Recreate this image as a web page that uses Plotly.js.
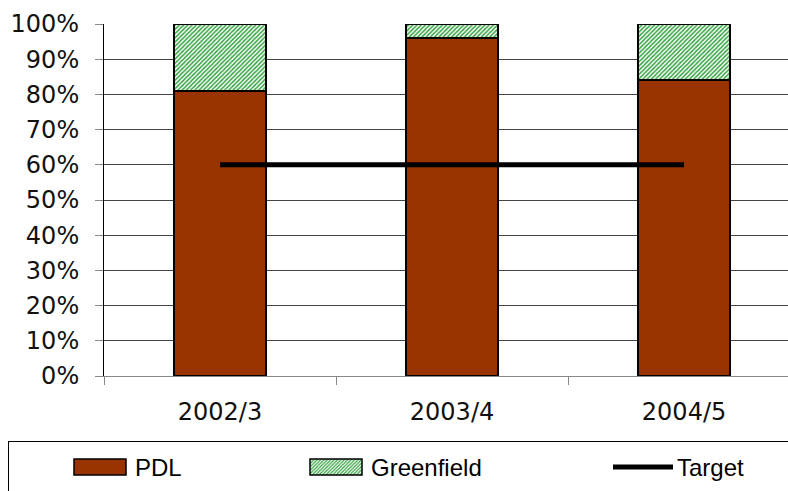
<!DOCTYPE html>
<html>
<head>
<meta charset="utf-8">
<script src="https://cdn.plot.ly/plotly-3.0.1.min.js"></script>
<style>
  html, body { margin: 0; padding: 0; background: #fff; }
  #chart { width: 788px; height: 491px; }
</style>
</head>
<body>
<div id="chart"></div>
<script>
// Share of new development by land type, per year
const years = ['2002/3', '2003/4', '2004/5'];
const pdl = [81, 96, 84];
const greenfield = [19, 4, 16];
const target = [60, 60, 60];
const yTicks = [0, 10, 20, 30, 40, 50, 60, 70, 80, 90, 100];

const tickFont = { family: "'DejaVu Sans', Verdana, sans-serif", size: 24, color: '#111' };

const traces = [
  {
    type: 'bar', name: 'PDL', x: years, y: pdl, width: 0.4,
    marker: { color: '#993300', line: { color: '#000', width: 2 } },
    hoverinfo: 'skip'
  },
  {
    type: 'bar', name: 'Greenfield', x: years, y: greenfield, width: 0.4,
    marker: {
      color: '#ffffff',
      line: { color: '#000', width: 2 },
      pattern: { shape: '/', fgcolor: '#33a33f', bgcolor: '#ffffff', size: 3, solidity: 0.5 }
    },
    hoverinfo: 'skip'
  },
  {
    type: 'scatter', mode: 'lines', name: 'Target', x: years, y: target,
    line: { color: '#000', width: 5 },
    hoverinfo: 'skip'
  }
];

const layout = {
  width: 788, height: 491,
  margin: { l: 104, r: 0, t: 24, b: 115 },
  paper_bgcolor: '#fff', plot_bgcolor: '#fff',
  barmode: 'stack',
  showlegend: true,
  xaxis: {
    type: 'category',
    range: [-0.5, 2.448],
    tickson: 'boundaries',
    ticks: 'outside', ticklen: 8, tickcolor: '#888', tickwidth: 1,
    showline: true, linecolor: '#888', linewidth: 1,
    showgrid: false, zeroline: false,
    tickfont: tickFont,
    ticklabelstandoff: 14
  },
  yaxis: {
    range: [0, 100],
    tickvals: yTicks,
    ticktext: yTicks.map(v => v + '%'),
    ticks: 'outside', ticklen: 8, tickcolor: '#888', tickwidth: 1,
    showline: true, linecolor: '#000', linewidth: 1,
    showgrid: true, gridcolor: '#444', gridwidth: 1,
    zeroline: false,
    tickfont: tickFont,
    ticklabelstandoff: 11
  },
  legend: {
    orientation: 'h',
    xref: 'container', yref: 'container',
    x: 8 / 788, xanchor: 'left',
    y: 1 - 441 / 491, yanchor: 'top',
    bordercolor: '#000', borderwidth: 1, bgcolor: '#fff',
    font: { family: "'Liberation Sans', Arial, sans-serif", size: 24, color: '#000' },
    itemwidth: 60,
    traceorder: 'normal'
  }
};

// Legend entries laid out as one wide strip: swatch start and swatch width
const legendItems = [
  { x: 66, w: 52, kind: 'bar' },
  { x: 302, w: 52, kind: 'bar' },
  { x: 600, w: 60, kind: 'line' }
];

function tidyLegend(gd) {
  const leg = gd.querySelector('g.legend');
  if (!leg) return;
  const box = leg.querySelector('g.scrollbox');
  if (box) box.removeAttribute('clip-path');
  leg.querySelectorAll('[clip-path]').forEach(n => n.removeAttribute('clip-path'));
  const bg = leg.querySelector('rect.bg');
  if (bg) { bg.setAttribute('width', 830); bg.setAttribute('height', 80); }
  const groups = leg.querySelectorAll('g.traces');
  groups.forEach((g, i) => {
    const it = legendItems[i];
    if (!it) return;
    g.setAttribute('transform', 'translate(' + it.x + ',26)');
    const pts = g.querySelector('g.legendpoints');
    if (pts) pts.setAttribute('transform', '');
    if (it.kind === 'bar') {
      g.querySelectorAll('g.legendpoints path').forEach(p => {
        p.setAttribute('d', 'M0,-8H' + it.w + 'V8H0Z');
        p.setAttribute('transform', '');
        p.style.strokeWidth = '1.5px';
      });
    } else {
      g.querySelectorAll('g.legendpoints path').forEach(p => {
        p.setAttribute('d', 'M0,0H' + it.w);
        p.setAttribute('transform', '');
        p.style.strokeLinecap = 'round';
      });
    }
    const txt = g.querySelector('text.legendtext');
    if (txt) txt.setAttribute('x', it.w + 9);
  });
}

Plotly.newPlot('chart', traces, layout, { staticPlot: true, displayModeBar: false })
  .then(tidyLegend);
</script>
</body>
</html>
